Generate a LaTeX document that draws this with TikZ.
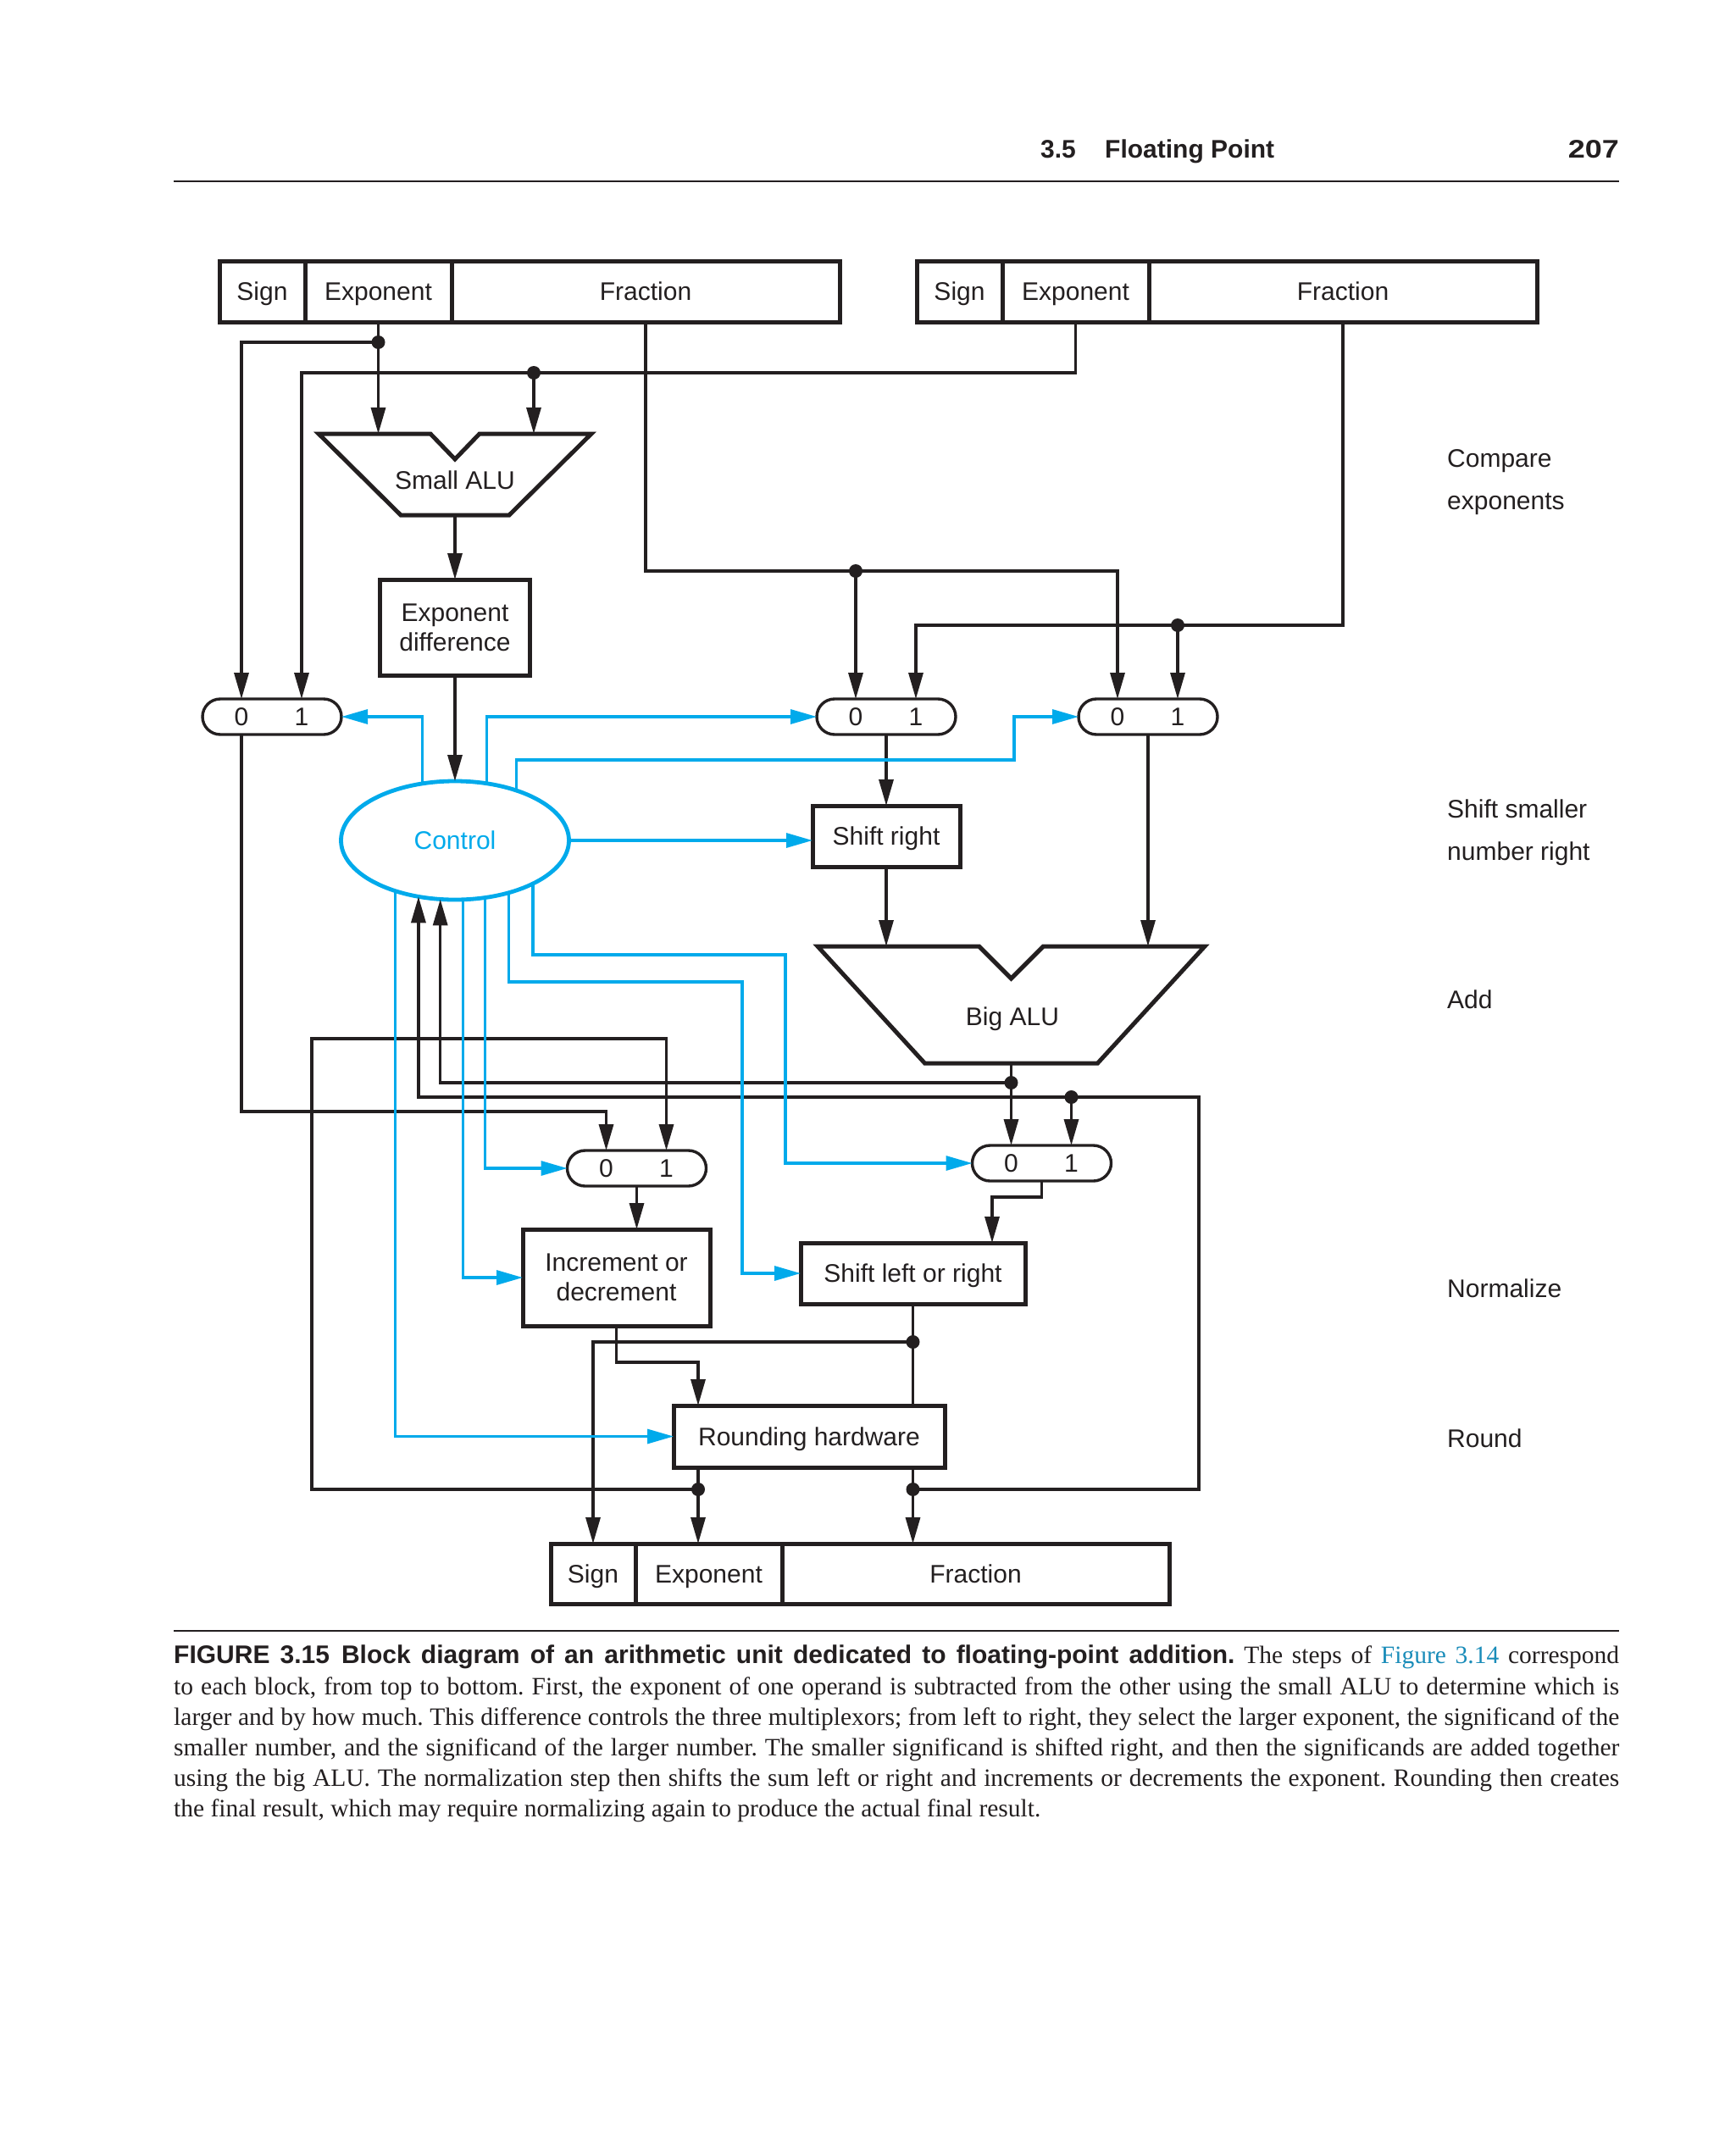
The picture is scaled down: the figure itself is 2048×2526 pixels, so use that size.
\documentclass[tikz,border=0pt]{standalone}
\usepackage{fontspec}
\setmainfont{Liberation Serif}
\newfontfamily\diagfont{Liberation Sans}
\usetikzlibrary{arrows.meta,shapes.geometric,calc}
\definecolor{ink}{RGB}{35,31,32}
\definecolor{cy}{RGB}{0,170,235}
\definecolor{figblue}{RGB}{25,140,185}
\newcommand\capline[1]{\makebox[1706pt][s]{#1}}
\newcommand\dfont{\diagfont\fontsize{30}{35}\selectfont}
\newcommand\hbfont{\diagfont\bfseries\fontsize{30}{36}\selectfont}
\frenchspacing
\begin{document}
\begin{tikzpicture}[x=1pt,y=-1pt,
  >={Triangle[length=31pt,width=17pt]},
  wire/.style={draw=ink,line width=3.3pt},
  cwire/.style={draw=cy,line width=3.2pt},
  one/.style={text height=24pt,text depth=3pt},
  reg/.style={draw=ink,line width=5pt,minimum height=72pt,inner sep=0pt,outer sep=0pt,font=\dfont,text=ink,one},
  blk/.style={draw=ink,line width=5pt,inner sep=0pt,outer sep=0pt,font=\dfont,text=ink,align=center},
  mux/.style={draw=ink,line width=3.4pt,rounded corners=21pt,minimum width=164pt,minimum height=42pt,inner sep=0pt,outer sep=0pt},
  mlbl/.style={inner sep=0pt,font=\dfont,text=ink,one},
  dot/.style={circle,fill=ink,minimum size=16pt,inner sep=0pt,outer sep=0pt},
  steplbl/.style={anchor=base west,inner sep=0pt,font=\dfont,text=ink},
  alu/.style={draw=ink,line width=5pt,line join=miter},
]
\useasboundingbox (0,0) rectangle (2048,2526);
\fill[white] (0,0) rectangle (2048,2526);

% ---------- header ----------
\node[anchor=base west,inner sep=0pt,font=\hbfont,text=ink] (sec) at (1228,187) {3.5};
\node[anchor=base west,inner sep=0pt,font=\hbfont,text=ink] (title) at (1304,187) {Floating Point};
\node[anchor=base east,inner sep=0pt,font=\hbfont,text=ink] (page) at (1911,187) {\scalebox{1.2}[1]{207}};
\coordinate (hrL) at (205,214);
\coordinate (hrR) at (1911,214);
\draw[ink,line width=2.5pt] (hrL) -- (hrR);

% ---------- registers ----------
\node[reg,minimum width=101pt] (lsign) at (309.5,344) {Sign};
\node[reg,minimum width=173pt] (lexp) at (446.5,344) {Exponent};
\node[reg,minimum width=458pt] (lfrac) at (762,344) {Fraction};
\node[reg,minimum width=101pt] (rsign) at (1132.5,344) {Sign};
\node[reg,minimum width=173pt] (rexp) at (1269.5,344) {Exponent};
\node[reg,minimum width=458pt] (rfrac) at (1585,344) {Fraction};
\node[reg,minimum width=100pt,minimum height=71pt] (bsign) at (700,1857.5) {Sign};
\node[reg,minimum width=173pt,minimum height=71pt] (bexp) at (836.5,1857.5) {Exponent};
\node[reg,minimum width=457pt,minimum height=71pt] (bfrac) at (1151.5,1857.5) {Fraction};

% ---------- ALUs ----------
\draw[alu] (376,512) -- (508,512) -- (537,542) -- (566,512) -- (698,512) -- (601,608) -- (473,608) -- cycle;
\node[mlbl] (salu) at (537,567) {Small ALU};
\coordinate (saluL) at (446.5,512);
\coordinate (saluR) at (630,512);
\coordinate (saluO) at (537,608);

\draw[alu] (965,1117) -- (1155.5,1117) -- (1193.5,1155) -- (1231.5,1117) -- (1422,1117) -- (1295.5,1255) -- (1091.5,1255) -- cycle;
\node[mlbl] (balu) at (1195,1200) {Big ALU};
\coordinate (baluL) at (1046,1117);
\coordinate (baluR) at (1355,1117);
\coordinate (baluO) at (1193.5,1255);

% ---------- blocks ----------
\node[blk,minimum width=177pt,minimum height=113pt] (expd) at (537,740.5) {Exponent\\difference};
\node[blk,one,minimum width=174pt,minimum height=72pt] (shr) at (1046,987) {Shift right};
\node[blk,minimum width=221pt,minimum height=114pt] (incd) at (727.5,1508) {Increment or\\decrement};
\node[blk,one,minimum width=265pt,minimum height=72pt] (shlr) at (1077.5,1503) {Shift left or right};
\node[blk,one,minimum width=320pt,minimum height=73pt] (rnd) at (955,1695.5) {Rounding hardware};
\node[ellipse,draw=cy,line width=4.8pt,minimum width=269pt,minimum height=140pt,inner sep=0pt,outer sep=0pt,font=\dfont,text=cy,one] (ctrl) at (537,992) {Control};

% ---------- multiplexors ----------
\node[mux] (mux1) at (321,846) {};
\node[mlbl] (m1a) at (285,846) {0};
\node[mlbl] (m1b) at (356,846) {1};
\node[mux] (mux2) at (1046,846) {};
\node[mlbl] (m2a) at (1010,846) {0};
\node[mlbl] (m2b) at (1081,846) {1};
\node[mux] (mux3) at (1355,846) {};
\node[mlbl] (m3a) at (1319,846) {0};
\node[mlbl] (m3b) at (1390,846) {1};
\node[mux] (mux4) at (751.5,1379) {};
\node[mlbl] (m4a) at (715.5,1379) {0};
\node[mlbl] (m4b) at (786.5,1379) {1};
\node[mux] (mux5) at (1229.5,1373) {};
\node[mlbl] (m5a) at (1193.5,1373) {0};
\node[mlbl] (m5b) at (1264.5,1373) {1};

% ---------- junction dots ----------
\node[dot] (d1) at (446.5,404) {};
\node[dot] (d2) at (630,440) {};
\node[dot] (d3) at (m2a |- 0,674) {};
\node[dot] (d4) at (m3b |- 0,738) {};
\node[dot] (d5) at (m5a |- 0,1278) {};
\node[dot] (d6) at (1077.5,1758) {};
\node[dot] (d7) at (m5b |- 0,1295) {};
\node[dot] (d8) at (824,1758) {};
\node[dot] (d9) at (1077.5,1584) {};
\coordinate (loopR) at (1415,1295);
\coordinate (loopL) at (368,1226);
\coordinate (n1) at (m4a |- 0,1312);
\coordinate (q1) at (1171,1413);
\coordinate (rnE) at (824,1732);
\coordinate (rnF) at (1077.5,1732);
\coordinate (p1) at (824,1608);
\coordinate (c3) at (1197,897);
\coordinate (c8) at (876,1159);
\coordinate (c9) at (927,1127);

% ---------- black connectors ----------
\draw[wire,->] (lexp.south) -- (saluL);
\draw[wire,->] (d1.center) -| (m1a |- mux1.north);
\draw[wire,->] (rexp.south) |- (d2.center) -| (m1b |- mux1.north);
\draw[wire,->] (d2.center) -- (saluR);
\draw[wire,->] (saluO) -- (expd.north);
\draw[wire,->] (expd.south) -- (ctrl.north);
\draw[wire,->] (lfrac.south) |- (d3.center) -| (m3a |- mux3.north);
\draw[wire,->] (d3.center) -- (m2a |- mux2.north);
\draw[wire,->] (rfrac.south) |- (d4.center) -| (m2b |- mux2.north);
\draw[wire,->] (d4.center) -- (m3b |- mux3.north);
\draw[wire,->] (mux2.south) -- (shr.north);
\draw[wire,->] (mux3.south) -- (baluR);
\draw[wire,->] (shr.south) -- (baluL);
\draw[wire,->] (baluO) -- (m5a |- mux5.north);
\draw[wire,->] (d5.center) -| (ctrl.256.24);
\draw[wire,->] (rnF) -- (rnF |- bfrac.north);
\draw[wire,->] (d6.center) -| (loopR) -| (ctrl.237.04);
\draw[wire,->] (d7.center) -- (m5b |- mux5.north);
\draw[wire,->] (rnE) -- (rnE |- bexp.north);
\draw[wire,->] (d8.center) -| (loopL) -| (m4b |- mux4.north);
\draw[wire,->] (m1a |- mux1.south) |- (n1) -- (m4a |- mux4.north);
\draw[wire,->] (mux4.south) -- (mux4.south |- incd.north);
\draw[wire,->] (incd.south) |- (p1) -- (rnE |- rnd.north);
\draw[wire,->] (mux5.south) |- (q1) -- (q1 |- shlr.north);
\draw[wire] (shlr.south) -- (shlr.south |- rnd.north);
\draw[wire,->] (d9.center) -| (bsign.north);

% ---------- control (cyan) connectors ----------
\draw[cwire,->] (ctrl.120.91) |- (mux1.east);
\draw[cwire,->] (ctrl.61.89) |- (mux2.west);
\draw[cwire,->] (ctrl.39.94) |- (c3) |- (mux3.west);
\draw[cwire,->] (ctrl.east) -- (ctrl.east -| shr.west);
\draw[cwire,->] (ctrl.220.49) |- (rnd.west);
\draw[cwire,->] (ctrl.278.96) |- (incd.west);
\draw[cwire,->] (ctrl.298.11) |- (mux4.west);
\draw[cwire,->] (ctrl.316.68) |- (c8) |- (shlr.west);
\draw[cwire,->] (ctrl.331.46) |- (c9) |- (mux5.west);

% ---------- step labels ----------
\node[steplbl] (s1a) at (1708,551) {Compare};
\node[steplbl] (s1b) at (1708,601) {exponents};
\node[steplbl] (s2a) at (1708,965) {Shift smaller};
\node[steplbl] (s2b) at (1708,1015) {number right};
\node[steplbl] (s3) at (1708,1190) {Add};
\node[steplbl] (s4) at (1708,1531) {Normalize};
\node[steplbl] (s5) at (1708,1708) {Round};

% ---------- caption ----------
\coordinate (crL) at (205,1925);
\coordinate (crR) at (1911,1925);
\draw[ink,line width=2.5pt] (crL) -- (crR);
\node[anchor=north west,inner sep=0pt,align=left,text=ink,font=\fontsize{29.5}{36.2}\selectfont] (cap) at (205,1942) {%
\capline{{\hbfont FIGURE 3.15\hspace{14pt}Block diagram of an arithmetic unit dedicated to floating-point addition.} The steps of {\color{figblue}Figure 3.14} correspond}\\
\capline{to each block, from top to bottom. First, the exponent of one operand is subtracted from the other using the small ALU to determine which is}\\
\capline{larger and by how much. This difference controls the three multiplexors; from left to right, they select the larger exponent, the significand of the}\\
\capline{smaller number, and the significand of the larger number. The smaller significand is shifted right, and then the significands are added together}\\
\capline{using the big ALU. The normalization step then shifts the sum left or right and increments or decrements the exponent. Rounding then creates}\\
the final result, which may require normalizing again to produce the actual final result.};
\end{tikzpicture}
\end{document}
